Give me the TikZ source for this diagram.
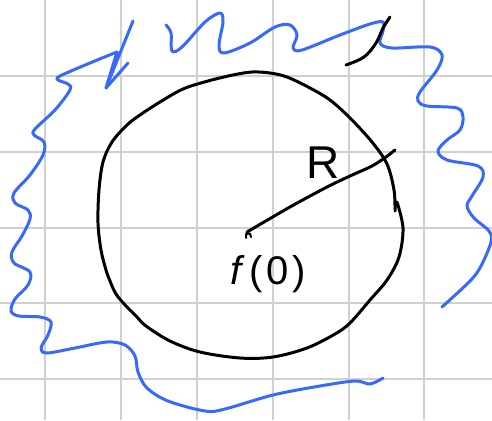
\documentclass[tikz,border=0pt]{standalone}
\usepackage{fontspec}
\setmainfont{Liberation Sans}
\definecolor{penblue}{RGB}{55,105,250}
\definecolor{gridgray}{RGB}{208,208,208}
\tikzset{
  gridline/.style={gridgray, line width=2pt},
  bluepen/.style={penblue, line width=3pt, line cap=round, line join=round},
  blackpen/.style={black, line width=3pt, line cap=round, line join=round},
  handtext/.style={inner sep=0pt, text=black}
}
\begin{document}
\begin{tikzpicture}[x=1pt,y=-1pt]
\fill[white] (0,0) rectangle (492,420);
\useasboundingbox (0,0) rectangle (492,420);
% grid
\foreach \gx in {45,121,197,273,349,424} \draw[gridline] (\gx,0) -- (\gx,420);
\foreach \gy in {76,152,228,303,379} \draw[gridline] (0,\gy) -- (492,\gy);
% blue outline, left and bottom
\draw[bluepen] plot[smooth, tension=0.55] coordinates {
 (117,52) (90,63) (60,76) (58,80) (68,84) (70,90) (55,110) (35,129) (34,135) (44,142)
 (43,155) (30,175) (14,193) (15,203) (28,210) (30,219) (22,236) (12,252) (14,263)
 (30,272) (28,285) (15,299) (11,311) (19,316) (40,317) (51,322) (48,335) (41,348)
 (47,353) (75,348) (107,342) (125,345) (135,356) (138,372) (147,388) (168,401)
 (205,411) (225,409) (273,395) (320,386) (355,381) (370,384) (383,378)};
\draw[bluepen] (117,52) -- (106,88) -- (133,21);
\draw[bluepen] (106,88) -- (128,63);
% blue outline, top and right
\draw[bluepen] plot[smooth, tension=0.55] coordinates {
 (166,25) (171,33) (172,51) (182,47) (205,22) (220,13) (223,22) (219,45) (224,53)
 (250,43) (275,27) (290,25) (297,35) (293,48) (302,50) (340,35) (370,24) (383,22)
 (383,31) (380,43) (392,48) (430,47) (442,55) (437,70) (420,92) (418,101) (427,106)
 (457,108) (463,117) (460,130) (447,140) (438,151) (447,160) (478,166) (483,177)
 (472,196) (467,206) (474,218) (489,231) (491,242) (481,266) (470,281) (442,307)};
% black top-right stroke
\draw[blackpen] plot[smooth, tension=0.6] coordinates {
 (346,65) (364,57) (376,43) (383,28) (390,17)};
% circle
\draw[blackpen] plot[smooth, tension=0.55] coordinates {
 (395,211) (394,190) (387,164) (372,142) (350,118) (330,100) (310,88) (287,77)
 (270,73) (252,72) (233,75) (208,81) (183,89) (160,102) (140,115) (127,125)
 (112,142) (103,162) (99,190) (98,223) (101,250) (106,270) (110,281) (116,294)
 (126,306) (137,317) (146,326) (170,341) (200,352) (240,358) (273,357) (307,348)
 (335,334) (350,323) (370,300) (387,280) (399,257) (403,228) (397,202)};
% radius
\coordinate (center) at (247,232);
\coordinate (rim) at (395,150);
\draw[blackpen] plot[smooth, tension=0.5] coordinates {
 (center) (290,207) (327,187) (350,176) (372,166) (386,157) (rim)};
\draw[black, line width=2pt, line cap=round, line join=round]
 (246,238) -- (246,234) -- (250,233.5) -- (251,237);
% labels
\node[handtext] (lblR) at (323,163) {\fontsize{46}{46}\selectfont R};
\node[handtext] (lblf) at (268,274) {\fontsize{40}{40}\selectfont \textit{f}\kern5pt(\kern3pt 0\kern4pt)};
\end{tikzpicture}
\end{document}
